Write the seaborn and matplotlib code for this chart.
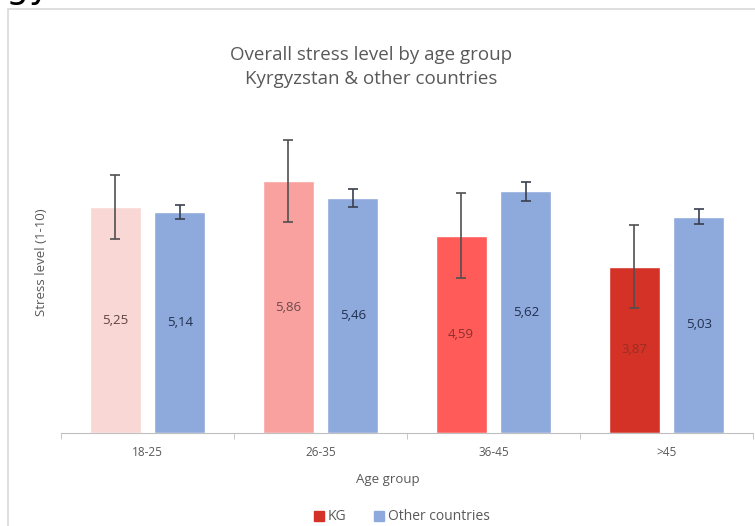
import pandas as pd
import numpy as np
import matplotlib.pyplot as plt
import matplotlib.patches as mpatches
import seaborn as sns

# data
age_groups = ['18-25', '26-35', '36-45', '>45']
kg_values = [5.25, 5.86, 4.59, 3.87]
other_values = [5.14, 5.46, 5.62, 5.03]
kg_err = [0.74, 0.95, 0.98, 0.97]
other_err = [0.16, 0.21, 0.22, 0.17]
series = ['KG', 'Other countries']

kg_colors = ['#F9D7D4', '#F8A19F', '#FF5B59', '#D43227']
other_color = '#8EA9DB'
kg_label_colors = ['#5E4242', '#6E4A4A', '#8A3030', '#9A2E24']
other_label_color = '#1F2F4F'
gray = '#595959'

df = pd.DataFrame({
    'age': age_groups * 2,
    'group': [series[0]] * 4 + [series[1]] * 4,
    'value': kg_values + other_values,
})

sns.set_style('white')
plt.rcParams['font.family'] = ['Open Sans', 'DejaVu Sans']

fig = plt.figure(figsize=(7.55, 5.26), dpi=100)
W, H = 755, 526

# outer chart frame (cropped on right and bottom)
fig.patches.append(mpatches.Rectangle((8 / W, -0.1), 1.2, 1.1 - 9 / H, transform=fig.transFigure,
                                      fill=False, edgecolor='#D9D9D9', linewidth=1.2))
# cropped text from above the chart
fig.text(6 / W, 1 + 2 / H, 'gy', fontsize=26, va='baseline', ha='left', color='black',
         family='DejaVu Sans')

ax = fig.add_axes([61 / W, 1 - 433 / H, 692 / W, 301 / H])
sns.barplot(data=df, x='age', y='value', hue='group', order=age_groups, hue_order=series,
            palette=[kg_colors[-1], other_color], saturation=1, width=0.75, gap=0.215,
            errorbar=None, legend=False, ax=ax)
ax.set_ylim(0, 7)
ax.set_xlim(-0.5, 3.5)

kg_bars = ax.containers[0]
other_bars = ax.containers[1]
for i, p in enumerate(kg_bars):
    p.set_facecolor(kg_colors[i])

for bars, vals, errs, lcols, ecol in [
        (kg_bars, kg_values, kg_err, kg_label_colors, '#505050'),
        (other_bars, other_values, other_err, [other_label_color] * 4, '#3A3F4F')]:
    for p, v, e, lc in zip(bars, vals, errs, lcols):
        cx = p.get_x() + p.get_width() / 2
        ax.errorbar(cx, v, yerr=e, color=ecol, capsize=3.5, elinewidth=1.2, capthick=1.2)
        ax.text(cx, v / 2, f'{v:.2f}'.replace('.', ','), ha='center', va='center',
                fontsize=9.5, color=lc)

for s in ['top', 'right', 'left']:
    ax.spines[s].set_visible(False)
ax.spines['bottom'].set_color('#BFBFBF')
ax.set_yticks([])
ax.set_xticks([-0.5, 0.5, 1.5, 2.5, 3.5], minor=True)
ax.tick_params(axis='x', which='minor', length=4, color='#BFBFBF', bottom=True)
ax.tick_params(axis='x', which='major', length=0, labelsize=8.5, labelcolor=gray, pad=9)

ax.set_xlabel('Age group', fontsize=9.5, color=gray)
ax.xaxis.set_label_coords((388 - 61) / 692, -(473 - 433) / 301)
ax.set_ylabel('Stress level (1-10)', fontsize=9.5, color=gray)
ax.yaxis.set_label_coords(-(61 - 48) / 692, (433 - 262) / 301)

fig.text(371 / W, 1 - 55 / H, 'Overall stress level by age group', ha='center', va='center',
         fontsize=13.5, color=gray)
fig.text(371 / W, 1 - 79 / H, 'Kyrgyzstan & other countries', ha='center', va='center',
         fontsize=13.5, color=gray)

handles = [mpatches.Patch(color=kg_colors[-1], label=series[0]),
           mpatches.Patch(color=other_color, label=series[1])]
fig.legend(handles=handles, loc='center', bbox_to_anchor=(402 / W, 1 - 517 / H), ncol=2,
           frameon=False, fontsize=10, handlelength=0.7, handleheight=0.7, handletextpad=0.3,
           columnspacing=2.0, labelcolor=gray)

fig.savefig('out.png', dpi=100)
